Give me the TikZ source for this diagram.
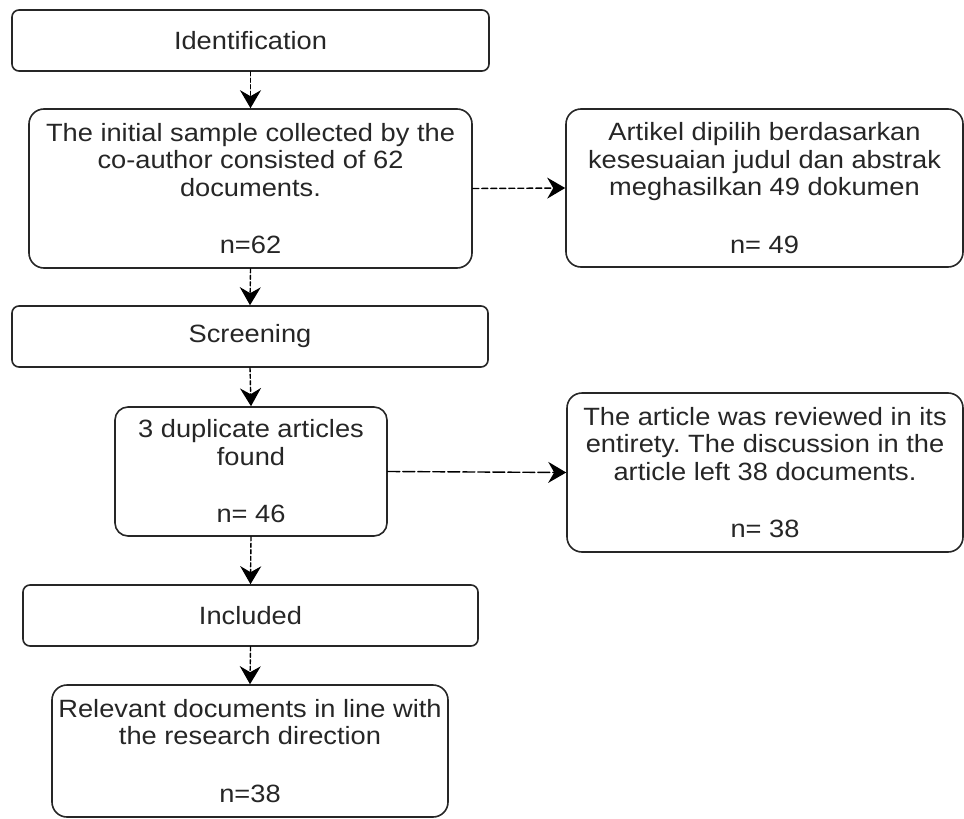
\documentclass[tikz,border=0pt]{standalone}
\usepackage{fontspec}
\setmainfont{Liberation Sans}[FakeStretch=1.09]
\usetikzlibrary{arrows.meta}
\frenchspacing
\begin{document}
\begin{tikzpicture}[x=1pt,y=-1pt,line join=round,line cap=round,line width=1.6pt]
\tikzset{every node/.style={font=\fontsize{25}{27.5}\selectfont,text=black!85,align=center,inner sep=0pt}}
\tikzset{stagebox/.style={draw=black!85,rounded corners=7pt}}
\tikzset{infobox/.style={draw=black!85,rounded corners=15pt}}
\tikzset{flow/.style={-{Stealth[length=18pt,width=21pt,inset=6pt]},black,line width=1.4pt,dash pattern=on 4pt off 2.5pt}}
\useasboundingbox (0,0) rectangle (964,819);
\node[stagebox,minimum width=477pt,minimum height=61pt] (ident) at (250.5,40.5) {Identification};
\node[infobox,minimum width=443pt,minimum height=159pt] (sample) at (250.5,188.5)
  {The initial sample collected by the\\co-author consisted of 62\\documents.\\[30pt]n=62};
\node[infobox,minimum width=397pt,minimum height=158pt] (artikel) at (764.5,188)
  {Artikel dipilih berdasarkan\\kesesuaian judul dan abstrak\\meghasilkan 49 dokumen\\[30pt]n= 49};
\node[stagebox,minimum width=476pt,minimum height=61pt] (screen) at (250,336.5) {Screening};
\node[infobox,rounded corners=13pt,minimum width=272pt,minimum height=129pt] (dupl) at (251,471.5)
  {3 duplicate articles\\found\\[30pt]n= 46};
\node[infobox,minimum width=396pt,minimum height=159pt] (review) at (765,472.5)
  {The article was reviewed in its\\entirety. The discussion in the\\article left 38 documents.\\[30pt]n= 38};
\node[stagebox,minimum width=455pt,minimum height=61pt] (incl) at (250.5,615.5) {Included};
\node[infobox,minimum width=396pt,minimum height=132pt] (relev) at (250,751)
  {Relevant documents in line with\\the research direction\\[30pt]n=38};
\draw[flow] (ident.south) -- (sample.north);
\draw[flow] (sample.south) -- (screen.north);
\draw[flow] (screen.south) -- (dupl.north);
\draw[flow] (dupl.south) -- (incl.north);
\draw[flow] (incl.south) -- (relev.north);
\draw[flow,dash pattern=on 6pt off 3pt] (sample.east) -- (artikel.west);
\draw[flow,dash pattern=on 12pt off 3pt] (dupl.east) -- (review.west);
\end{tikzpicture}
\end{document}
